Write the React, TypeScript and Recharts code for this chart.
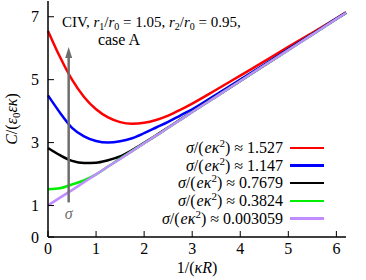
import { Legend, Line, LineChart, ReferenceLine, XAxis, YAxis } from "recharts";

const FONT = '"Liberation Serif", "Times New Roman", Times, serif';
const INK = "#000000";
const ARROW = "#6e6e6e";

// 1/(kR) sample positions
const X = [0, 0.25, 0.5, 0.75, 1, 1.25, 1.5, 1.75, 2, 2.25, 2.5, 2.75, 3, 3.5, 4, 4.5, 5, 5.5, 6, 6.2];

// C/(e0 e k)
const RED = [6.55, 5.72, 5.0, 4.45, 4.06, 3.8, 3.65, 3.6, 3.63, 3.72, 3.86, 4.04, 4.24, 4.68, 5.13, 5.58, 6.04, 6.49, 6.95, 7.14];
const BLUE = [4.5, 3.95, 3.47, 3.2, 3.05, 3.0, 3.04, 3.14, 3.3, 3.48, 3.66, 3.86, 4.06, 4.53, 5.0, 5.48, 5.97, 6.45, 6.94, 7.13];
const BLACK = [2.83, 2.6, 2.42, 2.35, 2.36, 2.44, 2.56, 2.76, 2.99, 3.23, 3.48, 3.73, 3.98, 4.47, 4.96, 5.45, 5.95, 6.44, 6.93, 7.12];
const GREEN = [1.52, 1.55, 1.67, 1.8, 1.99, 2.24, 2.49, 2.73, 2.98, 3.22, 3.47, 3.72, 3.97, 4.46, 4.96, 5.45, 5.94, 6.43, 6.93, 7.12];
const PURPLE = [1.0, 1.25, 1.49, 1.74, 1.99, 2.24, 2.48, 2.73, 2.98, 3.22, 3.47, 3.72, 3.97, 4.46, 4.96, 5.45, 5.94, 6.43, 6.93, 7.12];

const SIGMAS = ["1.527", "1.147", "0.7679", "0.3824", "0.003059"];
const COLORS = ["#ff0000", "#0000ff", "#000000", "#00ee00", "#c08cff"];
const KEYS = ["red", "blue", "black", "green", "purple"];
const VALUES = [RED, BLUE, BLACK, GREEN, PURPLE];

const X_TICKS = [0, 1, 2, 3, 4, 5, 6];
const Y_TICKS = [0, 1, 3, 5, 7];

// sigma arrow, in data units
const ARROW_X = 0.43;
const ARROW_FROM = 1.1;
const ARROW_TO = 6.04;

const data = X.map((x, i) => {
  const row: Record<string, number> = { x };
  KEYS.forEach((k, j) => (row[k] = VALUES[j][i]));
  return row;
});

function ArrowShape(props: any) {
  const { x1, y1, x2, y2 } = props;
  const head = 11;
  const top = Math.min(y1, y2);
  const bottom = Math.max(y1, y2);
  return (
    <g>
      <line x1={x1} x2={x2} y1={bottom} y2={top + head - 1} stroke={ARROW} strokeWidth={2.5} />
      <polygon
        points={`${x1},${top} ${x1 - 3.5},${top + head} ${x1 + 3.5},${top + head}`}
        fill={ARROW}
      />
      <text x={x1} y={bottom + 17} textAnchor="middle" fill={ARROW} fontSize={16} fontStyle="italic" fontFamily={FONT}>
        σ
      </text>
    </g>
  );
}

function LegendBox() {
  return (
    <div style={{ fontFamily: FONT, fontSize: 16, color: INK }}>
      {KEYS.map((k, i) => (
        <div
          key={k}
          style={{
            display: "flex",
            alignItems: "center",
            justifyContent: "flex-end",
            height: 17.7,
            whiteSpace: "nowrap",
          }}
        >
          <span>
            <i>σ</i>/(<i style={{ marginLeft: 1 }}>eκ</i>
            <span style={{ fontSize: 11, position: "relative", top: -6 }}>2</span>)
            <span style={{ margin: "0 4px" }}>≈</span>
            {SIGMAS[i]}
          </span>
          <span
            style={{
              display: "inline-block",
              width: 34,
              height: 2.5,
              background: COLORS[i],
              marginLeft: 7,
            }}
          />
        </div>
      ))}
    </div>
  );
}

export default function App() {
  const axisLine = { stroke: INK, strokeWidth: 1.5 };
  const tickLine = { stroke: INK, strokeWidth: 1 };
  const tick = { fill: INK, fontSize: 16, fontFamily: FONT };
  return (
    <div style={{ position: "absolute", left: 0, top: 0, width: 366, height: 280, background: "#fff", fontFamily: FONT }}>
      <LineChart
        width={366}
        height={280}
        data={data}
        margin={{ top: 1, right: 20, bottom: 13, left: 8 }}
        style={{ fontFamily: FONT }}
      >
        <XAxis
          dataKey="x"
          type="number"
          domain={[0, 6.2]}
          ticks={X_TICKS}
          height={30}
          tick={tick}
          tickSize={-6}
          tickMargin={12}
          axisLine={axisLine}
          tickLine={tickLine}
        />
        <XAxis
          xAxisId="top"
          orientation="top"
          dataKey="x"
          type="number"
          domain={[0, 6.2]}
          ticks={X_TICKS}
          height={0}
          tickFormatter={() => ""}
          tickSize={-6}
          axisLine={axisLine}
          tickLine={tickLine}
        />
        <YAxis
          type="number"
          domain={[0, 7.5]}
          ticks={Y_TICKS}
          width={40}
          tick={tick}
          tickSize={-6}
          tickMargin={15}
          axisLine={axisLine}
          tickLine={tickLine}
        />
        <YAxis
          yAxisId="right"
          orientation="right"
          type="number"
          domain={[0, 7.5]}
          ticks={Y_TICKS}
          width={0}
          tickFormatter={() => ""}
          tickSize={-6}
          axisLine={axisLine}
          tickLine={tickLine}
        />
        {KEYS.map((k, i) => (
          <Line
            key={k}
            type="monotone"
            dataKey={k}
            stroke={COLORS[i]}
            strokeWidth={2.5}
            dot={false}
            activeDot={false}
            isAnimationActive={false}
          />
        ))}
        <ReferenceLine
          segment={[
            { x: ARROW_X, y: ARROW_FROM },
            { x: ARROW_X, y: ARROW_TO },
          ]}
          stroke={ARROW}
          shape={ArrowShape}
        />
        <Legend
          layout="vertical"
          align="center"
          verticalAlign="middle"
          content={LegendBox}
          wrapperStyle={{ left: 124, top: 139, width: 200 }}
        />
        <text x={62} y={27} fontSize={15} fill={INK} fontFamily={FONT}>
          CIV, <tspan fontStyle="italic">r</tspan>
          <tspan fontSize={10} dy={3}>1</tspan>
          <tspan dy={-3}>/</tspan>
          <tspan fontStyle="italic">r</tspan>
          <tspan fontSize={10} dy={3}>0</tspan>
          <tspan dy={-3}> = 1.05, </tspan>
          <tspan fontStyle="italic">r</tspan>
          <tspan fontSize={10} dy={3}>2</tspan>
          <tspan dy={-3}>/</tspan>
          <tspan fontStyle="italic">r</tspan>
          <tspan fontSize={10} dy={3}>0</tspan>
          <tspan dy={-3}> = 0.95,</tspan>
        </text>
        <text x={119} y={45} fontSize={16} fill={INK} textAnchor="middle" fontFamily={FONT}>
          case A
        </text>
        <text x={197} y={273} fontSize={16} fill={INK} textAnchor="middle" fontFamily={FONT}>
          1/(<tspan fontStyle="italic">κR</tspan>)
        </text>
        <text x={17} y={119} fontSize={16} fill={INK} textAnchor="middle" fontFamily={FONT} transform="rotate(-90 17 119)">
          <tspan fontStyle="italic">C</tspan>/(<tspan fontStyle="italic">ε</tspan>
          <tspan fontSize={11} dy={3}>0</tspan>
          <tspan fontStyle="italic" dy={-3}>εκ</tspan>)
        </text>
      </LineChart>
    </div>
  );
}
